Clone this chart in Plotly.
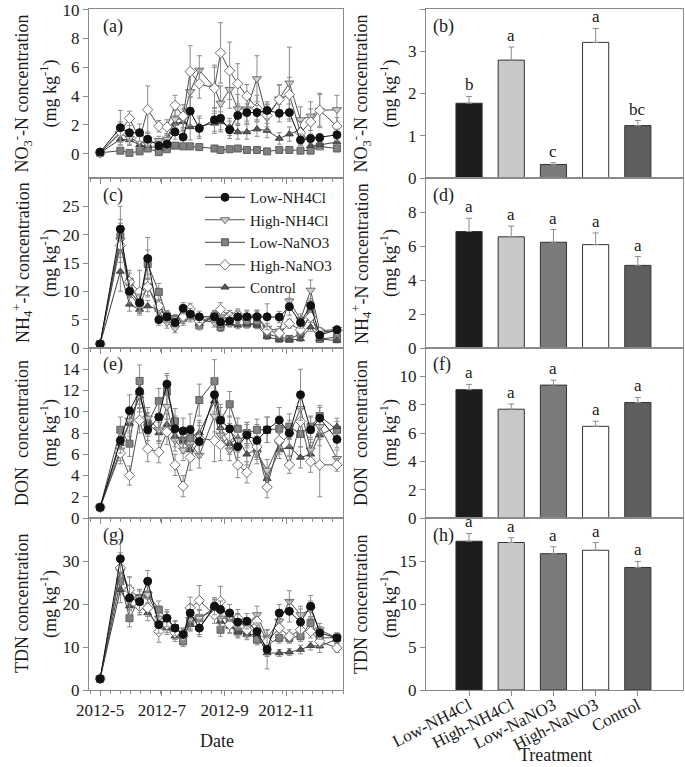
import plotly.graph_objects as go
from plotly.subplots import make_subplots

# ---------------- data ----------------
DATES = ["2012-05-01", "2012-05-21", "2012-05-30", "2012-06-09", "2012-06-17", "2012-06-28",
         "2012-07-06", "2012-07-14", "2012-07-22", "2012-07-29", "2012-08-07", "2012-08-22",
         "2012-08-28", "2012-09-06", "2012-09-14", "2012-09-23", "2012-10-03", "2012-10-13",
         "2012-10-25", "2012-11-04", "2012-11-15", "2012-11-25", "2012-12-04", "2012-12-21"]
DATE_TICKS = ["2012-05-01", "2012-07-01", "2012-09-01", "2012-11-01"]
DATE_TICKTEXT = ["2012-5", "2012-7", "2012-9", "2012-11"]

SERIES_NAMES = ["Low-NH4Cl", "High-NH4Cl", "Low-NaNO3", "High-NaNO3", "Control"]

# (a) NO3--N
NO3_LOW_NH4CL = [0.1, 1.8, 1.45, 1.45, 1.0, 0.55, 0.65, 1.5, 1.15, 2.95, 1.75, 2.35, 2.45, 1.65, 2.65, 2.85, 2.85, 3.0, 2.8, 2.85, 0.95, 1.05, 1.1, 1.3]
NO3_LOW_NH4CL_ERR = [0.05, 1.2, 0.5, 0.6, 0.5, 0.3, 0.3, 0.5, 0.4, 1.0, 0.7, 0.8, 0.8, 0.6, 0.7, 0.6, 0.5, 0.6, 0.6, 0.6, 0.4, 0.3, 0.3, 0.4]
NO3_HIGH_NH4CL = [0.05, 1.4, 1.05, 0.8, 0.65, 0.9, 1.0, 2.4, 2.4, 4.3, 5.8, 4.6, 3.5, 4.45, 3.1, 3.1, 5.2, 2.5, 3.8, 4.9, 2.35, 2.6, 3.0, 3.05]
NO3_HIGH_NH4CL_ERR = [0.05, 0.6, 0.4, 0.4, 0.3, 0.3, 0.4, 0.6, 0.7, 1.2, 1.0, 1.4, 1.2, 1.3, 1.0, 1.0, 1.6, 0.9, 1.0, 2.5, 0.9, 1.0, 1.2, 1.0]
NO3_LOW_NANO3 = [0.05, 0.2, 0.05, 0.15, 0.35, 0.1, 0.3, 0.55, 0.5, 0.5, 0.45, 0.35, 0.25, 0.3, 0.35, 0.25, 0.25, 0.15, 0.25, 0.25, 0.2, 0.2, 0.5, 0.35]
NO3_LOW_NANO3_ERR = [0.05, 0.1, 0.1, 0.15, 0.2, 0.1, 0.15, 0.2, 0.15, 0.15, 0.15, 0.1, 0.1, 0.1, 0.1, 0.1, 0.1, 0.1, 0.1, 0.1, 0.1, 0.1, 0.15, 0.1]
NO3_HIGH_NANO3 = [0.05, 1.5, 2.45, 1.0, 3.05, 1.9, 1.85, 3.35, 2.6, 5.7, 4.85, 4.55, 7.0, 5.75, 4.85, 4.0, 3.15, 2.65, 3.75, 4.1, 1.45, 2.2, 3.0, 1.9]
NO3_HIGH_NANO3_ERR = [0.05, 0.7, 0.5, 0.6, 1.65, 0.4, 0.5, 0.7, 0.8, 1.8, 1.0, 1.6, 2.1, 2.0, 1.4, 0.8, 0.9, 0.8, 1.0, 1.2, 0.8, 0.9, 1.1, 0.6]
NO3_CONTROL = [0.05, 1.0, 0.95, 0.6, 0.5, 0.4, 0.85, 2.1, 2.2, 1.85, 1.9, 2.1, 2.2, 1.85, 1.5, 1.5, 1.7, 1.6, 1.05, 1.35, 1.65, 0.55, 0.6, 0.8]
NO3_CONTROL_ERR = [0.05, 0.4, 0.4, 0.3, 0.3, 0.3, 0.4, 0.5, 0.6, 0.9, 0.7, 0.7, 0.7, 0.6, 0.5, 0.5, 0.5, 0.5, 0.4, 0.5, 0.6, 0.3, 0.3, 0.3]

# (c) NH4+-N
NH4_LOW_NH4CL = [0.7, 21.0, 10.0, 8.0, 15.8, 5.0, 5.5, 4.5, 7.0, 6.0, 5.5, 5.5, 4.6, 4.8, 5.5, 5.5, 5.5, 5.5, 5.45, 7.3, 4.5, 7.5, 2.3, 3.2]
NH4_LOW_NH4CL_ERR = [0.3, 4.0, 2.0, 1.5, 3.7, 1.0, 1.0, 0.8, 1.0, 1.0, 1.0, 1.0, 0.8, 1.0, 1.0, 1.2, 1.2, 2.3, 1.0, 1.5, 1.0, 1.2, 0.5, 0.6]
NH4_HIGH_NH4CL = [0.7, 19.0, 9.5, 7.5, 11.0, 6.5, 4.5, 3.5, 5.0, 6.0, 5.0, 4.5, 5.5, 5.0, 5.2, 5.5, 5.5, 3.5, 3.0, 8.3, 5.0, 10.2, 3.0, 3.3]
NH4_HIGH_NH4CL_ERR = [0.3, 3.0, 1.5, 1.2, 2.0, 1.2, 1.0, 0.8, 1.0, 1.0, 1.0, 0.8, 1.0, 1.0, 1.0, 1.0, 1.0, 0.8, 0.8, 1.5, 1.0, 1.8, 0.6, 0.6]
NH4_LOW_NANO3 = [0.7, 19.7, 11.7, 8.0, 14.8, 9.9, 5.6, 5.1, 5.3, 5.6, 4.0, 5.6, 3.7, 5.6, 5.6, 4.3, 4.3, 2.5, 1.9, 1.6, 2.5, 6.2, 1.6, 1.9]
NH4_LOW_NANO3_ERR = [0.3, 3.0, 2.0, 1.5, 2.5, 1.5, 1.0, 0.8, 1.0, 1.0, 0.8, 1.0, 0.8, 1.0, 1.0, 0.8, 0.8, 0.6, 0.5, 0.5, 0.6, 1.2, 0.5, 0.5]
NH4_HIGH_NANO3 = [0.7, 18.1, 11.7, 9.9, 10.8, 7.4, 5.6, 4.7, 5.6, 6.9, 4.7, 5.6, 6.8, 5.6, 5.9, 5.3, 5.6, 3.1, 2.6, 4.3, 3.2, 5.5, 2.8, 3.1]
NH4_HIGH_NANO3_ERR = [0.3, 3.0, 1.5, 3.8, 1.5, 1.2, 1.0, 0.8, 1.0, 1.0, 0.8, 1.0, 1.2, 1.0, 1.0, 0.8, 1.0, 0.6, 0.5, 0.8, 0.6, 1.0, 0.5, 0.5]
NH4_CONTROL = [0.7, 13.5, 7.7, 6.8, 7.4, 6.8, 5.6, 4.3, 5.6, 5.9, 4.3, 5.6, 4.0, 4.3, 4.0, 4.2, 4.0, 2.0, 1.4, 1.4, 1.6, 3.7, 1.6, 1.3]
NH4_CONTROL_ERR = [0.3, 3.5, 1.2, 1.0, 1.0, 1.0, 0.8, 0.8, 0.8, 0.8, 0.8, 0.8, 0.6, 0.6, 0.6, 0.6, 0.6, 0.5, 0.4, 0.4, 0.4, 0.8, 0.4, 0.4]

# (e) DON
DON_LOW_NH4CL = [1.0, 7.3, 10.1, 11.9, 8.3, 9.5, 12.6, 8.4, 8.2, 8.3, 7.2, 11.6, 9.2, 8.4, 6.7, 7.8, 7.3, 8.3, 9.2, 8.0, 11.6, 8.3, 9.4, 7.4]
DON_LOW_NH4CL_ERR = [0.2, 1.2, 1.5, 1.2, 1.0, 1.2, 1.0, 1.2, 1.2, 1.5, 1.5, 1.6, 1.2, 1.2, 1.0, 1.2, 1.5, 1.2, 1.2, 1.2, 2.4, 1.2, 1.0, 0.8]
DON_HIGH_NH4CL = [1.0, 6.4, 9.2, 11.5, 9.4, 8.3, 10.5, 7.3, 6.4, 7.0, 5.9, 9.6, 7.8, 6.4, 7.3, 7.8, 6.1, 4.5, 7.0, 7.8, 10.3, 6.4, 8.6, 5.6]
DON_HIGH_NH4CL_ERR = [0.2, 1.0, 1.2, 1.5, 1.0, 1.0, 1.2, 1.0, 1.0, 1.2, 1.2, 1.5, 1.2, 1.0, 1.0, 1.0, 1.0, 1.0, 1.0, 1.0, 1.5, 1.0, 1.2, 0.8]
DON_LOW_NANO3 = [1.0, 8.3, 7.0, 12.9, 8.9, 11.0, 11.9, 9.1, 7.3, 7.5, 11.1, 12.9, 9.2, 10.7, 8.4, 8.0, 8.3, 8.3, 8.4, 8.6, 7.9, 8.6, 9.6, 8.3]
DON_LOW_NANO3_ERR = [0.2, 1.2, 1.2, 1.5, 1.0, 1.2, 1.5, 1.2, 1.2, 1.2, 1.5, 2.0, 1.5, 1.2, 1.0, 1.0, 1.0, 1.2, 1.2, 1.2, 1.2, 1.0, 1.0, 0.8]
DON_HIGH_NANO3 = [1.0, 6.1, 4.0, 9.2, 6.5, 6.2, 8.1, 5.0, 3.0, 5.7, 7.5, 7.3, 6.9, 7.7, 5.0, 4.3, 6.7, 2.9, 7.3, 5.0, 9.1, 5.3, 5.0, 5.0]
DON_HIGH_NANO3_ERR = [0.2, 1.0, 0.9, 1.2, 1.2, 1.0, 1.2, 1.0, 1.0, 1.2, 1.5, 2.0, 1.5, 1.2, 1.2, 1.0, 1.0, 1.0, 1.0, 0.8, 1.2, 1.0, 3.0, 0.6]
DON_CONTROL = [1.0, 7.0, 8.9, 11.5, 8.9, 8.0, 8.8, 7.7, 7.3, 6.4, 8.0, 11.0, 8.5, 7.0, 7.5, 6.0, 6.5, 3.7, 6.4, 6.7, 5.7, 6.0, 7.8, 8.6]
DON_CONTROL_ERR = [0.2, 1.0, 1.2, 1.2, 1.0, 1.0, 1.0, 1.0, 1.0, 1.0, 1.2, 1.5, 1.2, 1.0, 1.0, 1.0, 1.0, 0.8, 0.8, 0.8, 1.0, 0.8, 1.0, 0.8]

# (g) TDN
TDN_LOW_NH4CL = [2.6, 30.5, 21.4, 20.5, 25.3, 15.2, 16.7, 14.4, 12.9, 17.9, 14.4, 19.5, 18.7, 17.9, 15.8, 16.0, 13.6, 9.4, 17.9, 18.3, 15.8, 19.5, 13.3, 12.1]
TDN_LOW_NH4CL_ERR = [0.4, 4.5, 3.0, 2.5, 2.5, 2.0, 2.0, 1.8, 1.5, 2.0, 2.0, 2.0, 2.0, 2.0, 1.8, 1.8, 2.0, 4.5, 2.0, 2.5, 3.0, 2.5, 1.5, 1.2]
TDN_HIGH_NH4CL = [2.6, 27.6, 23.3, 21.4, 22.2, 16.7, 16.4, 13.3, 12.9, 16.4, 16.7, 18.7, 16.7, 16.7, 16.0, 15.2, 17.5, 12.1, 16.0, 20.6, 17.5, 18.7, 14.0, 12.1]
TDN_HIGH_NH4CL_ERR = [0.4, 3.0, 3.0, 2.0, 2.0, 2.0, 1.8, 1.5, 1.5, 2.5, 2.0, 2.0, 2.0, 2.0, 1.8, 1.5, 2.0, 2.0, 2.0, 2.5, 2.0, 2.0, 1.5, 1.0]
TDN_LOW_NANO3 = [2.6, 25.3, 16.7, 21.4, 22.2, 18.7, 16.4, 14.4, 11.3, 16.0, 16.7, 19.1, 14.0, 16.0, 13.6, 13.6, 11.7, 10.5, 12.1, 12.1, 12.5, 15.6, 12.1, 12.2]
TDN_LOW_NANO3_ERR = [0.4, 3.0, 2.0, 2.0, 2.0, 2.0, 1.8, 1.5, 1.2, 1.8, 1.8, 2.0, 1.5, 1.5, 1.5, 1.5, 1.2, 1.2, 1.2, 1.2, 1.2, 1.5, 1.2, 1.0]
TDN_HIGH_NANO3 = [2.6, 28.4, 23.3, 19.5, 19.1, 13.6, 15.2, 13.3, 12.5, 19.1, 20.8, 17.5, 20.6, 15.2, 16.7, 14.0, 16.0, 11.3, 14.4, 12.5, 14.0, 13.6, 11.3, 9.8]
TDN_HIGH_NANO3_ERR = [0.4, 3.5, 3.0, 2.0, 2.0, 2.5, 1.8, 1.5, 1.5, 2.5, 3.5, 2.0, 3.5, 2.0, 2.0, 1.5, 2.0, 1.5, 2.0, 1.5, 1.5, 1.5, 1.2, 1.0]
TDN_CONTROL = [2.6, 23.3, 19.5, 19.5, 17.9, 15.2, 14.4, 12.5, 12.9, 15.2, 14.4, 19.1, 16.0, 14.8, 13.6, 12.9, 12.9, 8.6, 8.6, 8.8, 9.4, 10.3, 10.2, 11.8]
TDN_CONTROL_ERR = [0.4, 3.0, 2.0, 2.0, 1.8, 1.5, 1.5, 1.2, 1.2, 1.5, 1.5, 2.0, 1.5, 1.5, 1.2, 1.2, 1.2, 0.8, 0.8, 0.8, 1.0, 1.0, 1.5, 1.0]

# bar panels
TREATMENTS = ["Low-NH4Cl", "High-NH4Cl", "Low-NaNO3", "High-NaNO3", "Control"]
NO3_MEAN = [1.77, 2.79, 0.32, 3.21, 1.24]
NO3_SE = [0.16, 0.31, 0.04, 0.33, 0.12]
NO3_LETTERS = ["b", "a", "c", "a", "bc"]
NH4_MEAN = [6.85, 6.54, 6.22, 6.08, 4.86]
NH4_SE = [0.78, 0.63, 0.75, 0.69, 0.52]
NH4_LETTERS = ["a", "a", "a", "a", "a"]
DON_MEAN = [9.06, 7.68, 9.38, 6.47, 8.15]
DON_SE = [0.37, 0.37, 0.35, 0.36, 0.36]
DON_LETTERS = ["a", "a", "a", "a", "a"]
TDN_MEAN = [17.3, 17.15, 15.85, 16.25, 14.25]
TDN_SE = [0.9, 0.55, 0.8, 0.9, 0.7]
TDN_LETTERS = ["a", "a", "a", "a", "a"]

# ---------------- layout helpers ----------------
W, H = 685, 767
FONT = "Liberation Serif, Times New Roman, serif"
AXC = "#8a8a8a"
ERRC = "#8c8c8c"
TXT = "#1a1a1a"


def px(x):
    return x / W


def py(y):
    return 1 - y / H


LEFT_DOM = [px(89), px(343)]
RIGHT_DOM = [px(426), px(683)]
ROWS_PX = [(9, 178), (178, 348), (348, 518), (518, 690)]

STYLE = {
    "Low-NH4Cl": dict(marker=dict(symbol="circle", size=8, color="#111111", line=dict(color="#111111", width=1)), line="#111111", rank=1),
    "High-NH4Cl": dict(marker=dict(symbol="triangle-down", size=8, color="#cfcfcf", line=dict(color="#6e6e6e", width=1)), line="#505050", rank=2),
    "Low-NaNO3": dict(marker=dict(symbol="square", size=7, color="#7f7f7f", line=dict(color="#5f5f5f", width=1)), line="#454545", rank=3),
    "High-NaNO3": dict(marker=dict(symbol="diamond", size=8, color="#ffffff", line=dict(color="#6e6e6e", width=1)), line="#505050", rank=4),
    "Control": dict(marker=dict(symbol="triangle-up", size=7, color="#575757", line=dict(color="#404040", width=1)), line="#404040", rank=5),
}
DRAW_ORDER = ["Low-NaNO3", "Control", "High-NH4Cl", "High-NaNO3", "Low-NH4Cl"]

LEFT_PANELS = [
    {"Low-NH4Cl": (NO3_LOW_NH4CL, NO3_LOW_NH4CL_ERR), "High-NH4Cl": (NO3_HIGH_NH4CL, NO3_HIGH_NH4CL_ERR),
     "Low-NaNO3": (NO3_LOW_NANO3, NO3_LOW_NANO3_ERR), "High-NaNO3": (NO3_HIGH_NANO3, NO3_HIGH_NANO3_ERR),
     "Control": (NO3_CONTROL, NO3_CONTROL_ERR)},
    {"Low-NH4Cl": (NH4_LOW_NH4CL, NH4_LOW_NH4CL_ERR), "High-NH4Cl": (NH4_HIGH_NH4CL, NH4_HIGH_NH4CL_ERR),
     "Low-NaNO3": (NH4_LOW_NANO3, NH4_LOW_NANO3_ERR), "High-NaNO3": (NH4_HIGH_NANO3, NH4_HIGH_NANO3_ERR),
     "Control": (NH4_CONTROL, NH4_CONTROL_ERR)},
    {"Low-NH4Cl": (DON_LOW_NH4CL, DON_LOW_NH4CL_ERR), "High-NH4Cl": (DON_HIGH_NH4CL, DON_HIGH_NH4CL_ERR),
     "Low-NaNO3": (DON_LOW_NANO3, DON_LOW_NANO3_ERR), "High-NaNO3": (DON_HIGH_NANO3, DON_HIGH_NANO3_ERR),
     "Control": (DON_CONTROL, DON_CONTROL_ERR)},
    {"Low-NH4Cl": (TDN_LOW_NH4CL, TDN_LOW_NH4CL_ERR), "High-NH4Cl": (TDN_HIGH_NH4CL, TDN_HIGH_NH4CL_ERR),
     "Low-NaNO3": (TDN_LOW_NANO3, TDN_LOW_NANO3_ERR), "High-NaNO3": (TDN_HIGH_NANO3, TDN_HIGH_NANO3_ERR),
     "Control": (TDN_CONTROL, TDN_CONTROL_ERR)},
]
BAR_PANELS = [
    (NO3_MEAN, NO3_SE, NO3_LETTERS),
    (NH4_MEAN, NH4_SE, NH4_LETTERS),
    (DON_MEAN, DON_SE, DON_LETTERS),
    (TDN_MEAN, TDN_SE, TDN_LETTERS),
]
BAR_COLORS = ["#1c1c1c", "#c8c8c8", "#7b7b7b", "#ffffff", "#5e5e5e"]

LEFT_YRANGES = [[-1.7, 10.05], [0, 30], [0, 16], [0, 40]]
LEFT_YTICKS = [[0, 2, 4, 6, 8, 10], [0, 5, 10, 15, 20, 25], [0, 2, 4, 6, 8, 10, 12, 14], [0, 10, 20, 30]]
RIGHT_YRANGES = [[0, 4], [0, 10], [0, 12], [0, 20]]
RIGHT_YTICKS = [[0, 1, 2, 3, 4], [0, 2, 4, 6, 8], [0, 2, 4, 6, 8, 10], [0, 5, 10, 15]]

TITLE_L1 = ["NO<sub>3</sub><sup>-</sup>-N concentration", "NH<sub>4</sub><sup>+</sup>-N concentration",
            "DON\u00a0 concentration", "TDN concentration"]
TITLE_L2 = "(mg kg<sup>-1</sup>)"
LEFT_LABELS = ["(a)", "(c)", "(e)", "(g)"]
RIGHT_LABELS = ["(b)", "(d)", "(f)", "(h)"]

fig = make_subplots(rows=4, cols=2)

for r in range(4):
    data = LEFT_PANELS[r]
    for name in DRAW_ORDER:
        vals, errs = data[name]
        st = STYLE[name]
        fig.add_trace(go.Scatter(
            x=DATES, y=vals, mode="lines+markers", name=name,
            marker=st["marker"], line=dict(color=st["line"], width=1),
            error_y=dict(type="data", array=errs, color=ERRC, thickness=1, width=2.5),
            showlegend=(r == 1), legendrank=st["rank"],
        ), row=r + 1, col=1)
    means, ses, letters = BAR_PANELS[r]
    fig.add_trace(go.Bar(
        x=list(range(len(TREATMENTS))), y=means, width=0.62,
        marker=dict(color=BAR_COLORS, line=dict(color="#333333", width=1)),
        error_y=dict(type="data", symmetric=False, array=ses, arrayminus=[0] * len(ses),
                     color=ERRC, thickness=1, width=3),
        showlegend=False,
    ), row=r + 1, col=2)

axis_common = dict(showline=True, linecolor=AXC, linewidth=1, mirror=True, showgrid=False,
                   zeroline=False, tickcolor=AXC, ticklen=5, automargin=False,
                   tickfont=dict(family=FONT, size=17, color=TXT))

layout = {}
annotations = []
for r in range(4):
    top, bot = ROWS_PX[r]
    ydom = [py(bot), py(top)]
    li = 2 * r + 1
    ri = 2 * r + 2
    lx = "xaxis" if li == 1 else f"xaxis{li}"
    ly = "yaxis" if li == 1 else f"yaxis{li}"
    rx = f"xaxis{ri}"
    ry = f"yaxis{ri}"
    layout[lx] = dict(axis_common, domain=LEFT_DOM, type="date",
                      range=["2012-04-20", "2012-12-27"], tickvals=DATE_TICKS, ticktext=DATE_TICKTEXT,
                      ticks="outside", showticklabels=(r == 3),
                      minor=dict(ticks="outside", ticklen=3, tickcolor=AXC,
                                 dtick=10 * 86400000, tick0="2012-05-01"))
    layout[ly] = dict(axis_common, domain=ydom, range=LEFT_YRANGES[r], tickvals=LEFT_YTICKS[r],
                      ticks="outside")
    layout[rx] = dict(axis_common, domain=RIGHT_DOM, range=[-1.02, 5.07],
                      tickvals=list(range(len(TREATMENTS))), ticktext=TREATMENTS,
                      ticks="outside" if r == 3 else "", showticklabels=(r == 3), tickangle=-27,
                      ticklabelstandoff=-7 if r == 3 else 0)
    layout[ry] = dict(axis_common, domain=ydom, range=RIGHT_YRANGES[r], tickvals=RIGHT_YTICKS[r],
                      ticks="outside")

    yc = py((top + bot) / 2)
    for xc, txt in [(22, TITLE_L1[r]), (49, TITLE_L2), (361, TITLE_L1[r]), (389, TITLE_L2)]:
        annotations.append(dict(x=px(xc), y=yc, xref="paper", yref="paper", text=txt, textangle=-90,
                                showarrow=False, xanchor="center", yanchor="middle",
                                font=dict(family=FONT, size=18, color=TXT)))
    annotations.append(dict(x=px(101), y=py(top + 17), xref="paper", yref="paper", text=LEFT_LABELS[r],
                            showarrow=False, xanchor="left", yanchor="middle",
                            font=dict(family=FONT, size=18, color=TXT)))
    annotations.append(dict(x=px(431), y=py(top + 17), xref="paper", yref="paper", text=RIGHT_LABELS[r],
                            showarrow=False, xanchor="left", yanchor="middle",
                            font=dict(family=FONT, size=18, color=TXT)))
    means, ses, letters = BAR_PANELS[r]
    xr = "x" + str(ri)
    yr = "y" + str(ri)
    for i, (m, s, lt) in enumerate(zip(means, ses, letters)):
        annotations.append(dict(x=i, y=m + s, xref=xr, yref=yr, text=lt, showarrow=False,
                                xanchor="center", yanchor="bottom", yshift=0,
                                font=dict(family=FONT, size=17, color=TXT)))

annotations.append(dict(x=px(217), y=py(741), xref="paper", yref="paper", text="Date", showarrow=False,
                        xanchor="center", yanchor="middle", font=dict(family=FONT, size=18, color=TXT)))
annotations.append(dict(x=px(555), y=py(755), xref="paper", yref="paper", text="Treatment", showarrow=False,
                        xanchor="center", yanchor="middle", font=dict(family=FONT, size=18, color=TXT)))

fig.update_layout(**layout)
fig.update_layout(
    template="none",
    width=W, height=H, margin=dict(l=0, r=0, t=0, b=0, autoexpand=False), autosize=False,
    paper_bgcolor="white", plot_bgcolor="white",
    font=dict(family=FONT, color=TXT),
    annotations=annotations,
    showlegend=True,
    legend=dict(x=px(200), y=py(181), xanchor="left", yanchor="top", bgcolor="rgba(0,0,0,0)",
                font=dict(family=FONT, size=15, color=TXT), traceorder="normal",
                tracegroupgap=0, itemwidth=40, borderwidth=0),
    bargap=0.3,
)

fig.write_html("out.html", config={"displayModeBar": False},
               post_script="document.body.style.margin='0';document.body.style.padding='0';")
